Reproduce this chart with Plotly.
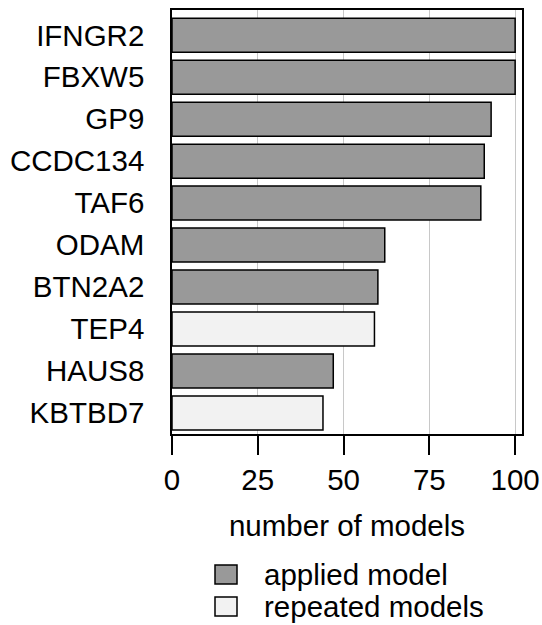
import plotly.graph_objects as go

genes = ["IFNGR2", "FBXW5", "GP9", "CCDC134", "TAF6", "ODAM", "BTN2A2", "TEP4", "HAUS8", "KBTBD7"]
values = [100, 100, 93, 91, 90, 62, 60, 59, 47, 44]
groups = ["applied", "applied", "applied", "applied", "applied", "applied", "applied", "repeated", "applied", "repeated"]
x_ticks = [0, 25, 50, 75, 100]
legend_labels = {"applied": "applied model", "repeated": "repeated models"}
colors = {"applied": "#999999", "repeated": "#f2f2f2"}

FONT = "Liberation Sans, Arial, Helvetica, sans-serif"
FS = 29.5

fig = go.Figure()
for g in ["applied", "repeated"]:
    xs = [v if gr == g else None for v, gr in zip(values, groups)]
    fig.add_trace(go.Bar(
        y=genes, x=xs, orientation="h", name=legend_labels[g],
        marker=dict(color=colors[g], line=dict(color="black", width=1.5)),
        showlegend=False,
    ))

fig.update_layout(
    width=542, height=625,
    margin=dict(l=172, r=20, t=10, b=191),
    paper_bgcolor="white", plot_bgcolor="white",
    barmode="overlay", bargap=0.19,
    font=dict(family=FONT, size=FS, color="black"),
)
fig.update_xaxes(
    range=[0, 102], tickvals=x_ticks, ticktext=[str(t) for t in x_ticks],
    showgrid=True, gridcolor="#c8c8c8", gridwidth=1.2,
    ticks="outside", ticklen=19, tickwidth=1.5, tickcolor="black",
    showline=True, linecolor="black", linewidth=1.5, mirror=True,
    zeroline=False, automargin=False,
    title=dict(text="number of models", standoff=20, font=dict(size=FS)),
    tickfont=dict(size=FS),
)
fig.update_yaxes(
    categoryorder="array", categoryarray=genes, autorange=False, range=[9.5, -0.6],
    showline=True, linecolor="black", linewidth=1.5, mirror=True,
    ticks="", ticklabelstandoff=20, showgrid=False, automargin=False,
    tickfont=dict(size=FS),
)

# legend drawn as swatches + labels in paper space
def py(pix):
    return (434 - pix) / 424

for g, cy in zip(["applied", "repeated"], [574.5, 606.5]):
    fig.add_shape(type="rect", xref="paper", yref="paper",
                  x0=(215 - 172) / 350, x1=(237 - 172) / 350,
                  y0=py(cy + 9.5), y1=py(cy - 9.5),
                  fillcolor=colors[g], line=dict(color="black", width=1.5))
    fig.add_annotation(xref="paper", yref="paper", x=(262 - 172) / 350, y=py(cy),
                       text=legend_labels[g], showarrow=False, xanchor="left", yanchor="middle",
                       font=dict(size=FS))

fig.write_html("out.html")
